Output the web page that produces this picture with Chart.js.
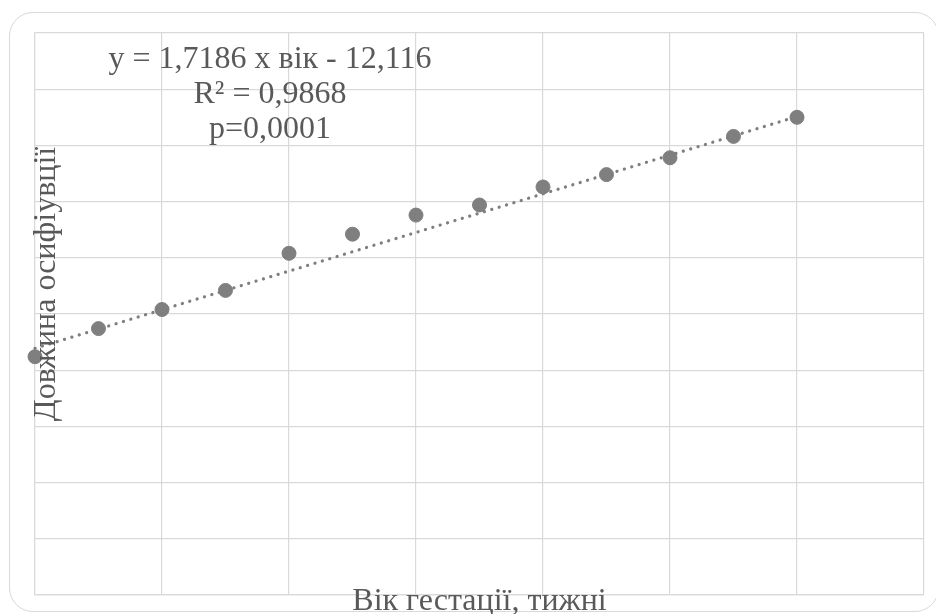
<!DOCTYPE html>
<html>
<head>
<meta charset="utf-8">
<script src="https://cdn.jsdelivr.net/npm/chart.js@4.4.1/dist/chart.umd.min.js"></script>
<style>
  html, body { margin: 0; padding: 0; background: #ffffff; }
  #wrap { position: relative; width: 936px; height: 614px; }
  #frame {
    position: absolute; left: 9px; top: 12px; width: 930px; height: 600px;
    border: 1.5px solid #d9d9d9; border-radius: 24px; box-sizing: border-box;
  }
  canvas { position: absolute; left: 0; top: 0; }
</style>
</head>
<body>
<div id="wrap">
  <div id="frame"></div>
  <canvas id="chart" width="936" height="614"></canvas>
</div>
<script>
// Gestational age, weeks
const weeks = [14, 15, 16, 17, 18, 19, 20, 21, 22, 23, 24, 25, 26];
// Ossification length
const lengths = [11.2, 13.7, 15.4, 17.1, 20.4, 22.1, 23.8, 24.7, 26.3, 27.4, 28.9, 30.8, 32.5];

// Axis ranges
const xMin = 14, xMax = 28, xStep = 2;
const yMin = -10, yMax = 40, yStep = 5;

// Trendline as printed on the chart
const trendSlope = 1.7186;
const trendIntercept = -12.116;
const annotationLines = ['y = 1,7186 x вік - 12,116', 'R² = 0,9868', 'p=0,0001'];

const xTitle = 'Вік гестації, тижні';
const yTitle = 'Довжина осифіувції';

const GRID = '#d9d9d9';
const MARK = '#7f7f7f';
const TEXT = '#595959';
const SERIF = '"Liberation Serif", "Times New Roman", serif';

const trendStart = weeks[0];
const trendEnd = weeks[weeks.length - 1];
const trendData = [
  { x: trendStart, y: trendSlope * trendStart + trendIntercept },
  { x: trendEnd, y: trendSlope * trendEnd + trendIntercept }
];

// Draws the equation block and the axis titles on top of the plot
const textPlugin = {
  id: 'textPlugin',
  afterDraw(chart) {
    const ctx = chart.ctx;
    const area = chart.chartArea;
    ctx.save();
    ctx.fillStyle = TEXT;

    ctx.font = '32px ' + SERIF;
    ctx.textAlign = 'center';
    ctx.textBaseline = 'alphabetic';
    annotationLines.forEach((line, i) => {
      ctx.fillText(line, 270, 68 + i * 35);
    });

    ctx.fillText(xTitle, (area.left + area.right) / 2, 610);

    ctx.translate(47, 284);
    ctx.rotate(-Math.PI / 2);
    ctx.textBaseline = 'middle';
    ctx.fillText(yTitle, 0, 0);
    ctx.restore();
  }
};

const canvas = document.getElementById('chart');
new Chart(canvas, {
  type: 'scatter',
  data: {
    datasets: [
      {
        label: 'Trend',
        data: trendData,
        showLine: true,
        borderColor: MARK,
        borderWidth: 3.2,
        borderDash: [0.1, 7.6],
        borderCapStyle: 'round',
        pointRadius: 0,
        fill: false,
        clip: false
      },
      {
        label: 'Довжина',
        data: weeks.map((w, i) => ({ x: w, y: lengths[i] })),
        backgroundColor: MARK,
        borderColor: MARK,
        pointRadius: 7,
        pointHoverRadius: 7,
        clip: false
      }
    ]
  },
  options: {
    responsive: false,
    animation: false,
    layout: { padding: { left: 35, top: 33, right: 12, bottom: 19 } },
    plugins: {
      legend: { display: false },
      tooltip: { enabled: false },
      title: { display: false }
    },
    scales: {
      x: {
        type: 'linear',
        min: xMin,
        max: xMax,
        ticks: { display: false, stepSize: xStep },
        grid: { color: GRID, lineWidth: 1.2, drawTicks: false },
        border: { color: GRID, width: 1.2 }
      },
      y: {
        type: 'linear',
        min: yMin,
        max: yMax,
        ticks: { display: false, stepSize: yStep },
        grid: { color: GRID, lineWidth: 1.2, drawTicks: false },
        border: { color: GRID, width: 1.2 }
      }
    }
  },
  plugins: [textPlugin]
});
</script>
</body>
</html>
